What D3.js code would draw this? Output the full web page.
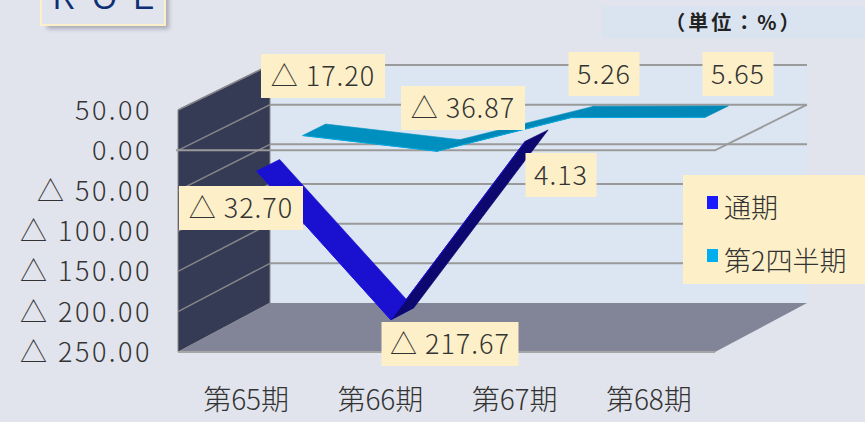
<!DOCTYPE html>
<html>
<head>
<meta charset="utf-8">
<script src="https://cdnjs.cloudflare.com/ajax/libs/d3/7.8.5/d3.min.js"></script>
<style>
html, body { margin: 0; padding: 0; background: #e1e4ec; overflow: hidden; }
text { font-family: "Noto Sans CJK JP", monospace; font-weight: 300; fill: #333; }
</style>
</head>
<body>
<svg id="chart" width="865" height="422">
  <defs><filter id="soft" x="-20%" y="-20%" width="140%" height="140%"><feGaussianBlur stdDeviation="2"/></filter></defs>
</svg>
<script>
var WIDTH = 865, HEIGHT = 422;

// values
var periods = ['第65期', '第66期', '第67期', '第68期'];
var yTicks = [50, 0, -50, -100, -150, -200, -250];
var yearValues = [-32.70, -217.67, 4.13];
var halfValues = [-17.20, -36.87, 5.26, 5.65];
var yearLabels = ['△ 32.70', '△ 217.67', '4.13'];
var halfLabels = ['△ 17.20', '△ 36.87', '5.26', '5.65'];
var legendNames = ['通期', '第2四半期'];

// 3D box of the chart: front plane, back plane
var x = d3.scaleBand().domain(periods).range([178, 715]);
var yFront = d3.scaleLinear().domain([-250, 50]).range([352, 110]);
var yBack = d3.scaleLinear().domain([-250, 50]).range([303, 65]);
var depthX = d3.scaleLinear().domain([0, 1]).range([0, 92]);

const px = (p, z) => x(p) + x.bandwidth() / 2 + depthX(z);
const py = (v, z) => yFront(v) + (yBack(v) - yFront(v)) * z;
const xLeft = x.range()[0], xRight = x.range()[1];
const pts = (arr) => arr.map((d) => d.join(',')).join(' ');

var svg = d3.select('#chart');

// title box, cut off by the top of the picture
svg.append('rect').attr('x', 47).attr('y', -10).attr('width', 122).attr('height', 39)
    .attr('fill', '#a9acb8').attr('filter', 'url(#soft)');
svg.append('rect').attr('x', 41).attr('y', -10).attr('width', 124).attr('height', 35)
    .attr('fill', '#e1e4ec').attr('stroke', '#fdf0c8').attr('stroke-width', 2);
svg.append('text').attr('x', 53).attr('y', 9)
    .attr('font-size', 31).attr('letter-spacing', 17)
    .style('fill', '#0f2f75').style('font-family', 'Liberation Sans').style('font-weight', 400).text('ROE');

// unit box
svg.append('rect').attr('x', 602).attr('y', 6).attr('width', 263).attr('height', 32).attr('fill', '#dae4f0');
svg.append('text').attr('x', 734).attr('y', 30).attr('text-anchor', 'middle')
    .attr('font-size', 20).attr('letter-spacing', 3).style('font-weight', 700).style('fill', '#222')
    .text('（単位：%）');

// back wall, side wall, floor
svg.append('polygon').attr('fill', '#dce6f3')
    .attr('points', pts([[xLeft + depthX(1), py(50, 1)], [xRight + depthX(1), py(50, 1)],
        [xRight + depthX(1), py(-250, 1)], [xLeft + depthX(1), py(-250, 1)]]));
svg.append('polygon').attr('fill', '#363b55').attr('stroke', '#8a8a8a').attr('stroke-width', 1)
    .attr('points', pts([[xLeft, py(50, 0)], [xLeft + depthX(1), py(50, 1)],
        [xLeft + depthX(1), py(-250, 1)], [xLeft, py(-250, 0)]]));
svg.append('polygon').attr('fill', '#828598')
    .attr('points', pts([[xLeft, py(-250, 0)], [xLeft + depthX(1), py(-250, 1)],
        [xRight + depthX(1), py(-250, 1)], [xRight, py(-250, 0)]]));
svg.append('line').attr('x1', xLeft).attr('x2', xRight)
    .attr('y1', py(-250, 0)).attr('y2', py(-250, 0)).attr('stroke', '#a5a5a5').attr('stroke-width', 2);

// grid lines on both walls
yTicks.forEach((t) => {
    if (t === -250) return;
    svg.append('line').attr('x1', xLeft + depthX(1)).attr('x2', xRight + depthX(1))
        .attr('y1', py(t, 1)).attr('y2', py(t, 1)).attr('stroke', '#9a9a9a').attr('stroke-width', 2);
    svg.append('line').attr('x1', xLeft).attr('x2', xLeft + depthX(1))
        .attr('y1', py(t, 0)).attr('y2', py(t, 1)).attr('stroke', '#85858a').attr('stroke-width', 1.5);
});

// the plane at zero
svg.append('polyline').attr('fill', 'none').attr('stroke', '#9a9a9a').attr('stroke-width', 2)
    .attr('points', pts([[xLeft - 2, py(0, 0)], [xRight, py(0, 0)], [xRight + depthX(1), py(0, 1)]]));

// ribbon for one series, one quad for each step between periods
const drawRibbon = (values, z0, z1, fills) => {
    var rows = values.map((v, i) => [periods[i], v]);
    d3.pairs(rows).forEach(([a, b]) => {
        var fill = b[1] < a[1] ? fills.down : fills.up;
        svg.append('polygon').attr('fill', fill).attr('stroke', fill).attr('stroke-width', 0.6)
            .attr('points', pts([
                [px(a[0], z0), py(a[1], z0)], [px(a[0], z1), py(a[1], z1)],
                [px(b[0], z1), py(b[1], z1)], [px(b[0], z0), py(b[1], z0)]
            ]));
    });
    svg.append('polyline').attr('fill', 'none').attr('stroke', fills.edge).attr('stroke-width', 1)
        .attr('points', pts(rows.map((r) => [px(r[0], z0), py(r[1], z0)])));
};
drawRibbon(halfValues, 0.625, 0.875, {down: '#0090c0', up: '#0088b8', edge: '#00a8e0'});
drawRibbon(yearValues, 0.125, 0.375, {down: '#1a10d0', up: '#0c0870', edge: '#1a10e8'});

// axis labels
var yAxisLabel = (t) => (t < 0 ? '△ ' : '') + d3.format('.2f')(Math.abs(t));
svg.selectAll('text.ytick').data(yTicks).enter().append('text').attr('class', 'ytick')
    .attr('x', 152).attr('y', (t) => yFront(t) + 10).attr('text-anchor', 'end')
    .attr('font-size', 27).attr('letter-spacing', 2.5).text(yAxisLabel);
svg.selectAll('text.xtick').data(periods).enter().append('text').attr('class', 'xtick')
    .attr('x', (p) => px(p, 0) + 1).attr('y', 410).attr('text-anchor', 'middle')
    .attr('font-size', 28).text((p) => p);

// value labels, centred on their boxes
const valueLabel = (text, cx, cy, w) => {
    svg.append('rect').attr('x', cx - w / 2).attr('y', cy - 22).attr('width', w).attr('height', 44)
        .attr('fill', '#fdf0c8');
    svg.append('text').attr('x', cx).attr('y', cy + 10).attr('text-anchor', 'middle')
        .attr('font-size', 27).attr('letter-spacing', 1).text(text);
};
var halfBoxes = [[323, 76], [463, 108], [604, 74], [738, 74]];
var yearBoxes = [[241, 208], [450, 344], [561, 175]];
var labelW = (s) => s.length === 4 ? 71 : (s.length === 7 ? 124 : 137);
halfLabels.forEach((s, i) => valueLabel(s, halfBoxes[i][0], halfBoxes[i][1], labelW(s)));
yearLabels.forEach((s, i) => valueLabel(s, yearBoxes[i][0], yearBoxes[i][1], labelW(s)));

// legend
svg.append('rect').attr('x', 683).attr('y', 175).attr('width', 182).attr('height', 109).attr('fill', '#fdf0c8');
var legendColors = ['#1a1aff', '#00aeef'];
legendNames.forEach((name, i) => {
    svg.append('rect').attr('x', 707).attr('y', 196 + i * 53).attr('width', 11).attr('height', 13)
        .attr('fill', legendColors[i]);
    svg.append('text').attr('x', 724).attr('y', 218 + i * 53).attr('font-size', 27).text(name);
});
</script>
</body>
</html>
